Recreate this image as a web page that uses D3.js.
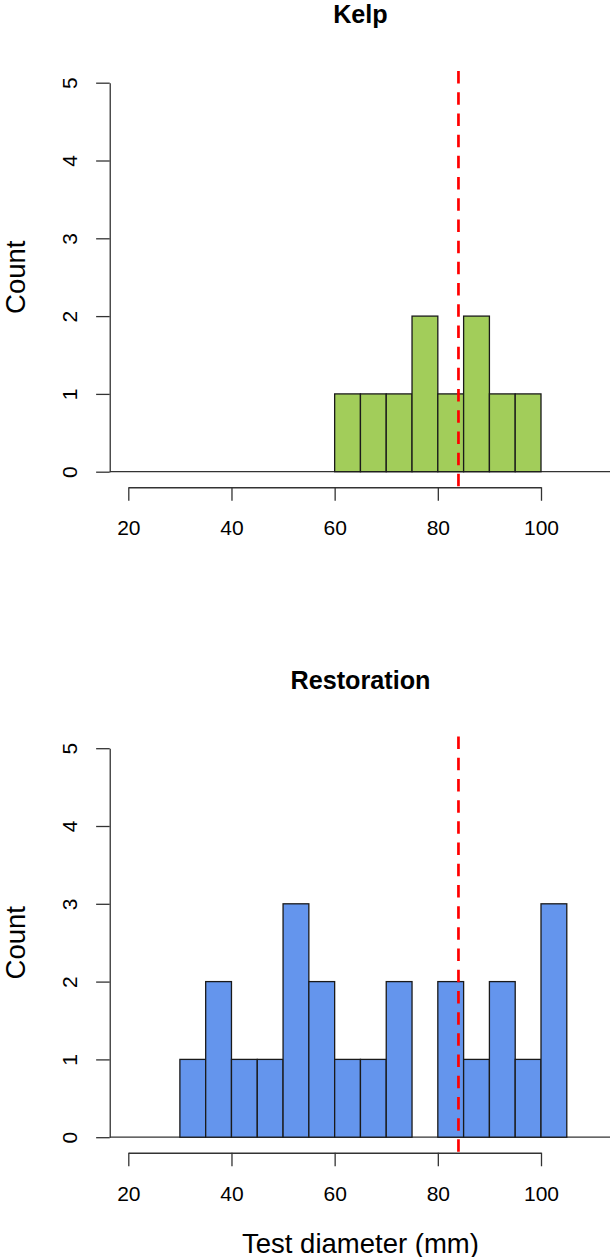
<!DOCTYPE html>
<html>
<head>
<meta charset="utf-8">
<script src="https://cdn.jsdelivr.net/npm/d3@7"></script>
<style>
  body { margin: 0; background: #fff; }
  svg { display: block; }
  text { font-family: "Liberation Sans", Arial, sans-serif; fill: #000; }
</style>
</head>
<body>
<script>
// histogram data (bin width 5 mm)
const kelpBreaks = [60, 65, 70, 75, 80, 85, 90, 95, 100];
const kelpCounts = [1, 1, 1, 2, 1, 2, 1, 1];

const restBreaks = [30, 35, 40, 45, 50, 55, 60, 65, 70, 75, 80, 85, 90, 95, 100, 105];
const restCounts = [1, 2, 1, 1, 3, 2, 1, 1, 2, 0, 2, 1, 2, 1, 3];

const xTicks = [20, 40, 60, 80, 100];
const yTicks = [0, 1, 2, 3, 4, 5];
const meanLine = 84;

const width = 610, height = 1257;
const panelShift = 665.5;

let svg = d3.select('body').append('svg')
    .attr('width', width)
    .attr('height', height);

// shared x scale (mm -> px)
let x = d3.scaleLinear()
    .domain([20, 100])
    .range([128.3, 541]);

const xLeft = x(16.4), xRight = x(113.6);

let panels = [
    { title: 'Kelp', breaks: kelpBreaks, counts: kelpCounts, fill: '#A2CD5A', dy: 0 },
    { title: 'Restoration', breaks: restBreaks, counts: restCounts, fill: '#6495ED', dy: panelShift }
];

panels.forEach((p, i) => {
    let y = d3.scaleLinear()
        .domain([0, 5])
        .range([471.7 + p.dy, 82.7 + p.dy]);

    let g = svg.append('g');

    let bins = p.counts.map((c, j) => ({ x0: p.breaks[j], x1: p.breaks[j + 1], n: c }));

    // baseline across the plot region
    g.append('line')
        .attr('x1', xLeft).attr('x2', xRight)
        .attr('y1', y(0)).attr('y2', y(0))
        .attr('stroke', '#333').attr('stroke-width', 1.3);

    g.selectAll('rect.bar')
        .data(bins.filter(d => d.n > 0))
        .enter()
        .append('rect')
        .attr('class', 'bar')
        .attr('x', d => x(d.x0))
        .attr('width', d => x(d.x1) - x(d.x0))
        .attr('y', d => y(d.n))
        .attr('height', d => y(0) - y(d.n))
        .attr('fill', p.fill)
        .attr('stroke', '#1a1a1a')
        .attr('stroke-width', 1.3);

    // x axis
    let xAxis = g.append('g')
        .attr('transform', `translate(0,${y(-0.2)})`)
        .call(d3.axisBottom(x)
            .tickValues(xTicks)
            .tickFormat(d3.format('d'))
            .tickSize(13.5)
            .tickSizeOuter(0)
            .tickPadding(19.5));
    xAxis.selectAll('text').style('font-size', '21px').attr('fill', '#000');

    // y axis
    let yAxis = g.append('g')
        .attr('transform', `translate(${xLeft},0)`)
        .call(d3.axisLeft(y)
            .tickValues(yTicks)
            .tickFormat(d3.format('d'))
            .tickSize(13.6)
            .tickSizeOuter(0));
    yAxis.selectAll('text')
        .attr('x', null).attr('dy', null)
        .attr('text-anchor', 'middle')
        .attr('transform', 'translate(-32.5,0) rotate(-90)')
        .style('font-size', '21px')
        .attr('fill', '#000');

    svg.selectAll('.domain, .tick line')
        .attr('stroke', '#333')
        .attr('stroke-width', 1.3);

    // mean line
    g.append('line')
        .attr('x1', x(meanLine)).attr('x2', x(meanLine))
        .attr('y1', y(5.15)).attr('y2', y(-0.2))
        .attr('stroke', '#ff0000')
        .attr('stroke-width', 2.7)
        .attr('stroke-dasharray', '12.5 8.7');

    // title
    g.append('text')
        .attr('x', (xLeft + xRight) / 2)
        .attr('y', 23 + p.dy)
        .attr('text-anchor', 'middle')
        .style('font-size', '25.2px')
        .style('font-weight', 'bold')
        .text(p.title);

    // y label
    g.append('text')
        .attr('transform', `translate(25,${y(2.5)}) rotate(-90)`)
        .attr('text-anchor', 'middle')
        .style('font-size', '27.5px')
        .text('Count');
});

svg.append('text')
    .attr('x', (xLeft + xRight) / 2)
    .attr('y', 1252.5)
    .attr('text-anchor', 'middle')
    .style('font-size', '27.5px')
    .text('Test diameter (mm)');
</script>
</body>
</html>
